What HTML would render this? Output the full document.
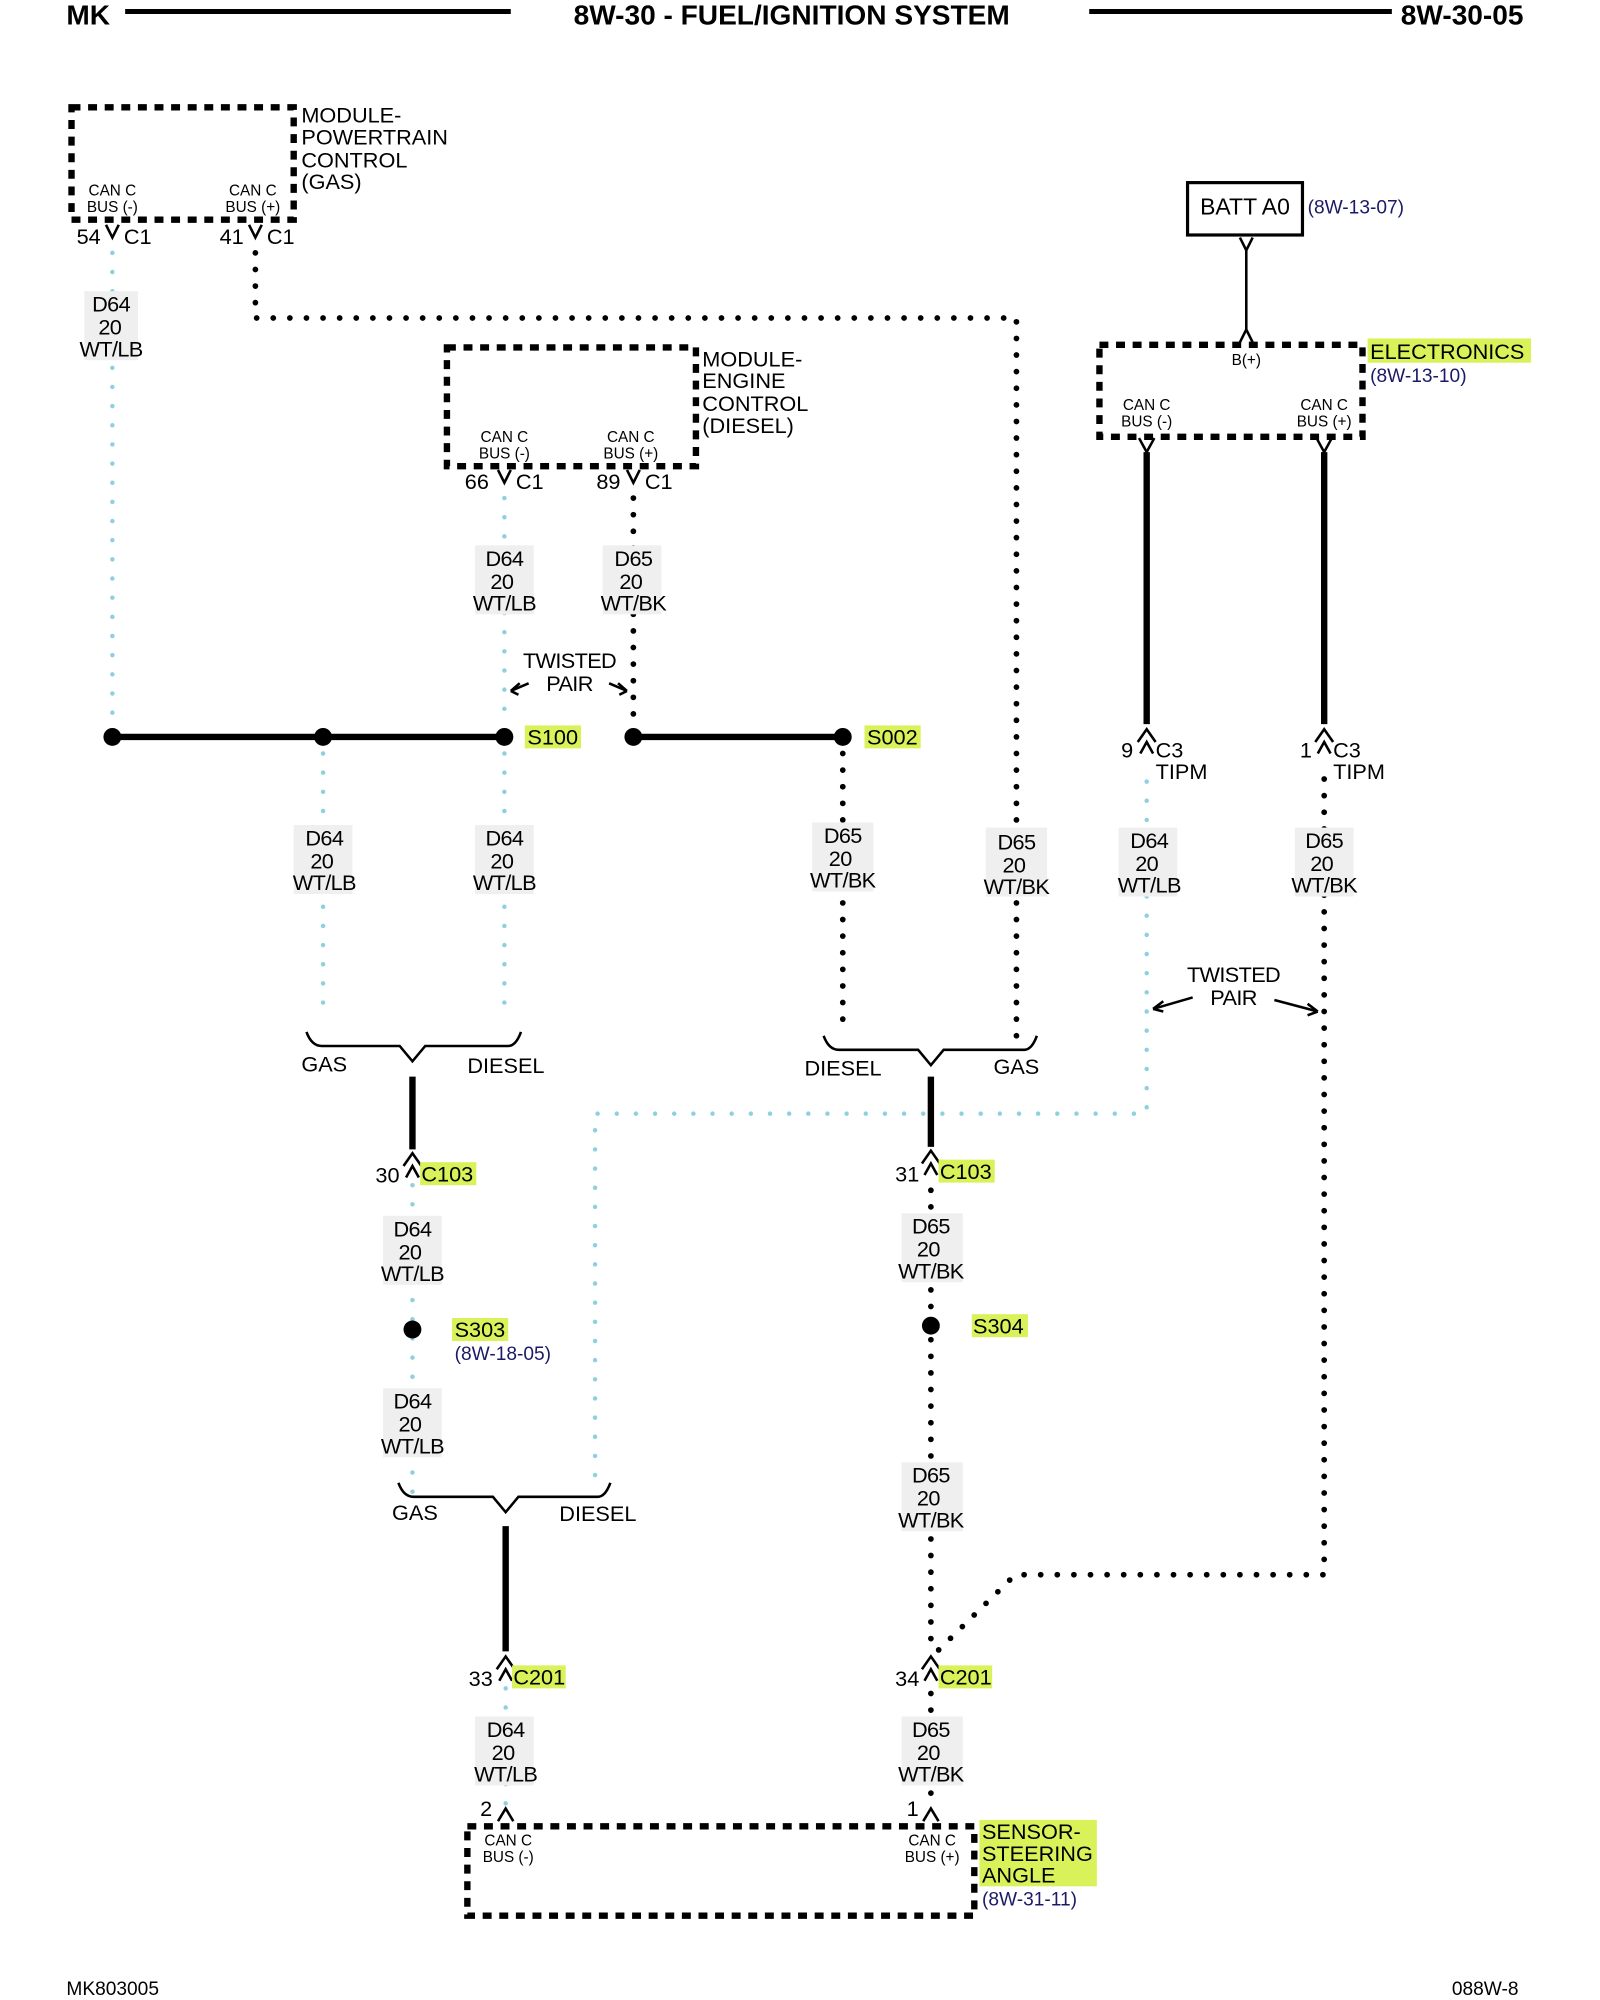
<!DOCTYPE html>
<html><head><meta charset="utf-8"><style>
html,body{margin:0;padding:0;background:#fff;}
svg{display:block;}
text{font-family:"Liberation Sans",Arial,sans-serif;fill:#000;}
.w{font-size:17px;text-anchor:middle;letter-spacing:-0.5px;}
.s{font-size:12px;text-anchor:middle;}
.p{font-size:17px;}
.n{font-size:15px;fill:#1a1a66;}
.box{fill:none;stroke:#000;stroke-width:5;stroke-dasharray:7 6;}
.bk{fill:none;stroke:#000;stroke-width:4.5;stroke-linecap:round;stroke-dasharray:0 13;}
.cy{fill:none;stroke:#8fcfdf;stroke-width:3.5;stroke-linecap:round;stroke-dasharray:0 15;}
.th{stroke:#000;stroke-width:5;fill:none;}
.thin{stroke:#000;stroke-width:2;fill:none;}
.lb{fill:#efefef;}
.hl{fill:#d9f25a;}
</style></head><body>
<svg width="1600" height="2000" viewBox="0 0 1253 1566" preserveAspectRatio="none" xmlns="http://www.w3.org/2000/svg">
<!-- wires first -->
<path class="cy" d="M88 198 V560"/>
<path class="bk" d="M200 198 V249 H796 V812"/>
<path class="cy" d="M395 390 V570"/>
<path class="bk" d="M496 390 V560"/>
<path class="cy" d="M253 590 V800"/><path class="cy" d="M395 590 V800"/>
<path class="bk" d="M660 590 V805"/>
<path class="cy" d="M323 928 V1170"/>
<path class="cy" d="M396 1322 V1420"/>
<path class="bk" d="M729 932 V1285"/>
<path class="bk" d="M729 1326 V1410"/>
<path class="cy" d="M466 1155 V872 H898 V610"/>
<path class="bk" d="M1037 610 V1233 H795 L735 1292"/>

<!-- header -->
<text x="52" y="19" style="font-size:22px;font-weight:bold">MK</text>
<line x1="98" y1="9" x2="400" y2="9" stroke="#000" stroke-width="4"/>
<text x="620" y="19" style="font-size:22px;font-weight:bold;text-anchor:middle">8W-30 - FUEL/IGNITION SYSTEM</text>
<line x1="853" y1="9" x2="1090" y2="9" stroke="#000" stroke-width="4"/>
<text x="1097" y="19" style="font-size:22px;font-weight:bold">8W-30-05</text>
<text x="52" y="1562" style="font-size:15px">MK803005</text>
<text x="1137" y="1562" style="font-size:15px">088W-8</text>

<!-- label backgrounds -->
<g class="lb">
<rect x="66" y="228" width="42" height="54"/>
<rect x="372" y="427" width="46" height="54"/><rect x="472" y="427" width="46" height="54"/>
<rect x="230" y="646" width="46" height="54"/><rect x="372" y="646" width="46" height="54"/>
<rect x="636" y="644" width="48" height="54"/><rect x="772" y="648" width="48" height="54"/>
<rect x="876" y="648" width="46" height="54"/><rect x="1014" y="648" width="46" height="54"/>
<rect x="300" y="952" width="46" height="54"/><rect x="300" y="1087" width="46" height="54"/>
<rect x="706" y="950" width="48" height="54"/><rect x="706" y="1145" width="48" height="54"/>
<rect x="372" y="1344" width="46" height="54"/><rect x="706" y="1344" width="48" height="54"/>
</g>

<!-- PCM -->
<rect x="56" y="84" width="174" height="88" class="box"/>
<text class="p" x="236" y="96">MODULE-</text><text class="p" x="236" y="113">POWERTRAIN</text>
<text class="p" x="236" y="131">CONTROL</text><text class="p" x="236" y="148">(GAS)</text>
<text class="s" x="88" y="153">CAN C</text><text class="s" x="88" y="166">BUS (-)</text>
<text class="s" x="198" y="153">CAN C</text><text class="s" x="198" y="166">BUS (+)</text>
<text class="p" x="60" y="191">54</text><path class="thin" d="M83 176 L88 186 L93 176"/><text class="p" x="97" y="191">C1</text>
<text class="p" x="172" y="191">41</text><path class="thin" d="M195 176 L200 186 L205 176"/><text class="p" x="209" y="191">C1</text>
<text class="w" x="87" y="244">D64</text><text class="w" x="86" y="262">20</text><text class="w" x="87" y="279">WT/LB</text>

<!-- ECM -->
<rect x="350" y="272" width="195" height="93" class="box"/>
<text class="p" x="550" y="287">MODULE-</text><text class="p" x="550" y="304">ENGINE</text>
<text class="p" x="550" y="322">CONTROL</text><text class="p" x="550" y="339">(DIESEL)</text>
<text class="s" x="395" y="346">CAN C</text><text class="s" x="395" y="359">BUS (-)</text>
<text class="s" x="494" y="346">CAN C</text><text class="s" x="494" y="359">BUS (+)</text>
<text class="p" x="364" y="383">66</text><path class="thin" d="M390 368 L395 378 L400 368"/><text class="p" x="404" y="383">C1</text>
<text class="p" x="467" y="383">89</text><path class="thin" d="M491 368 L496 378 L501 368"/><text class="p" x="505" y="383">C1</text>
<text class="w" x="395" y="443">D64</text><text class="w" x="393" y="461">20</text><text class="w" x="395" y="478">WT/LB</text>
<text class="w" x="496" y="443">D65</text><text class="w" x="494" y="461">20</text><text class="w" x="496" y="478">WT/BK</text>
<text class="w" x="446" y="523">TWISTED</text><text class="w" x="446" y="541">PAIR</text>
<path class="thin" d="M400 541 L414 535 M400 541 L407 535 M400 541 L406 544"/>
<path class="thin" d="M491 541 L477 535 M491 541 L484 535 M491 541 L485 544"/>

<!-- bus S100/S002 -->
<line x1="88" y1="577" x2="395" y2="577" class="th"/>
<circle cx="88" cy="577" r="7"/><circle cx="253" cy="577" r="7"/><circle cx="395" cy="577" r="7"/>
<rect x="411" y="568" width="44" height="18" class="hl"/><text class="p" x="413" y="583">S100</text>
<line x1="496" y1="577" x2="660" y2="577" class="th"/>
<circle cx="496" cy="577" r="7"/><circle cx="660" cy="577" r="7"/>
<rect x="677" y="568" width="44" height="18" class="hl"/><text class="p" x="679" y="583">S002</text>

<text class="w" x="254" y="662">D64</text><text class="w" x="252" y="680">20</text><text class="w" x="254" y="697">WT/LB</text>
<text class="w" x="395" y="662">D64</text><text class="w" x="393" y="680">20</text><text class="w" x="395" y="697">WT/LB</text>
<text class="w" x="660" y="660">D65</text><text class="w" x="658" y="678">20</text><text class="w" x="660" y="695">WT/BK</text>
<text class="w" x="796" y="665">D65</text><text class="w" x="794" y="683">20</text><text class="w" x="796" y="700">WT/BK</text>

<!-- left bracket 1 -->
<path class="thin" d="M240 808 Q244 819 252 819 H313 L323 831 L333 819 H398 Q404 819 408 808"/>
<text class="p" x="236" y="839">GAS</text><text class="p" x="366" y="840">DIESEL</text>
<line x1="323" y1="843" x2="323" y2="900" class="th"/>
<text class="p" x="294" y="926">30</text><path class="thin" d="M316 913 L323 903 L330 913 M318 922 L323 913 L328 922"/>
<rect x="329" y="910" width="44" height="18" class="hl"/><text class="p" x="330" y="925">C103</text>
<text class="w" x="323" y="968">D64</text><text class="w" x="321" y="986">20</text><text class="w" x="323" y="1003">WT/LB</text>
<circle cx="323" cy="1041" r="7"/>
<rect x="354" y="1032" width="44" height="18" class="hl"/><text class="p" x="356" y="1047">S303</text>
<text class="n" x="356" y="1065">(8W-18-05)</text>
<text class="w" x="323" y="1103">D64</text><text class="w" x="321" y="1121">20</text><text class="w" x="323" y="1138">WT/LB</text>

<!-- left bracket 2 -->
<path class="thin" d="M312 1161 Q316 1172 324 1172 H386 L396 1184 L406 1172 H468 Q474 1172 478 1161"/>
<text class="p" x="307" y="1190">GAS</text><text class="p" x="438" y="1191">DIESEL</text>
<line x1="396" y1="1195" x2="396" y2="1293" class="th"/>
<text class="p" x="367" y="1320">33</text><path class="thin" d="M389 1307 L396 1297 L403 1307 M391 1316 L396 1307 L401 1316"/>
<rect x="401" y="1304" width="42" height="18" class="hl"/><text class="p" x="402" y="1319">C201</text>
<text class="w" x="396" y="1360">D64</text><text class="w" x="394" y="1378">20</text><text class="w" x="396" y="1395">WT/LB</text>
<text class="p" x="376" y="1422">2</text><path class="thin" d="M390 1426 L396 1416 L402 1426"/>

<!-- sensor box -->
<rect x="366" y="1430" width="397" height="70" class="box"/>
<text class="s" x="398" y="1445">CAN C</text><text class="s" x="398" y="1458">BUS (-)</text>
<text class="s" x="730" y="1445">CAN C</text><text class="s" x="730" y="1458">BUS (+)</text>
<rect x="767" y="1425" width="92" height="52" class="hl"/>
<text class="p" x="769" y="1440">SENSOR-</text><text class="p" x="769" y="1457">STEERING</text><text class="p" x="769" y="1474">ANGLE</text>
<text class="n" x="769" y="1492">(8W-31-11)</text>

<!-- right bracket -->
<path class="thin" d="M645 811 Q649 822 657 822 H719 L729 834 L739 822 H802 Q808 822 812 811"/>
<text class="p" x="630" y="842">DIESEL</text><text class="p" x="778" y="841">GAS</text>
<line x1="729" y1="843" x2="729" y2="898" class="th"/>
<text class="p" x="701" y="925">31</text><path class="thin" d="M722 911 L729 901 L736 911 M724 920 L729 911 L734 920"/>
<rect x="735" y="908" width="44" height="18" class="hl"/><text class="p" x="736" y="923">C103</text>
<text class="w" x="729" y="966">D65</text><text class="w" x="727" y="984">20</text><text class="w" x="729" y="1001">WT/BK</text>
<circle cx="729" cy="1038" r="7"/>
<rect x="761" y="1029" width="44" height="18" class="hl"/><text class="p" x="762" y="1044">S304</text>
<text class="w" x="729" y="1161">D65</text><text class="w" x="727" y="1179">20</text><text class="w" x="729" y="1196">WT/BK</text>
<text class="p" x="701" y="1320">34</text><path class="thin" d="M722 1307 L729 1297 L736 1307 M724 1316 L729 1307 L734 1316"/>
<rect x="735" y="1304" width="42" height="18" class="hl"/><text class="p" x="736" y="1319">C201</text>
<text class="w" x="729" y="1360">D65</text><text class="w" x="727" y="1378">20</text><text class="w" x="729" y="1395">WT/BK</text>
<text class="p" x="710" y="1422">1</text><path class="thin" d="M723 1426 L729 1416 L735 1426"/>

<!-- BATT / electronics -->
<rect x="930" y="143" width="90" height="41" fill="none" stroke="#000" stroke-width="2.5"/>
<text x="975" y="168" style="font-size:18px;text-anchor:middle">BATT A0</text>
<text class="n" x="1024" y="167">(8W-13-07)</text>
<path class="thin" d="M971 186 L976 196 L981 186 M976 196 V258 M971 268 L976 258 L981 268"/>
<rect x="861" y="270" width="206" height="72" class="box"/>
<text class="s" x="976" y="286">B(+)</text>
<rect x="1071" y="265" width="128" height="19" class="hl"/>
<text class="p" x="1073" y="281">ELECTRONICS</text>
<text class="n" x="1073" y="299">(8W-13-10)</text>
<text class="s" x="898" y="321">CAN C</text><text class="s" x="898" y="334">BUS (-)</text>
<text class="s" x="1037" y="321">CAN C</text><text class="s" x="1037" y="334">BUS (+)</text>
<path class="thin" d="M892 343 L898 354 L904 343"/><path class="thin" d="M1031 343 L1037 354 L1043 343"/>
<line x1="898" y1="354" x2="898" y2="567" class="th"/>
<line x1="1037" y1="354" x2="1037" y2="567" class="th"/>
<text class="p" x="878" y="593">9</text><path class="thin" d="M891 581 L898 571 L905 581 M893 590 L898 581 L903 590"/>
<text class="p" x="905" y="593">C3</text><text class="p" x="905" y="610">TIPM</text>
<text class="p" x="1018" y="593">1</text><path class="thin" d="M1030 581 L1037 571 L1044 581 M1032 590 L1037 581 L1042 590"/>
<text class="p" x="1044" y="593">C3</text><text class="p" x="1044" y="610">TIPM</text>
<text class="w" x="900" y="664">D64</text><text class="w" x="898" y="682">20</text><text class="w" x="900" y="699">WT/LB</text>
<text class="w" x="1037" y="664">D65</text><text class="w" x="1035" y="682">20</text><text class="w" x="1037" y="699">WT/BK</text>
<text class="w" x="966" y="769">TWISTED</text><text class="w" x="966" y="787">PAIR</text>
<path class="thin" d="M903 790 L934 781 M903 790 L911 784 M903 790 L911 792"/>
<path class="thin" d="M1032 792 L998 783 M1032 792 L1024 786 M1032 792 L1024 795"/>
</svg>
</body></html>
